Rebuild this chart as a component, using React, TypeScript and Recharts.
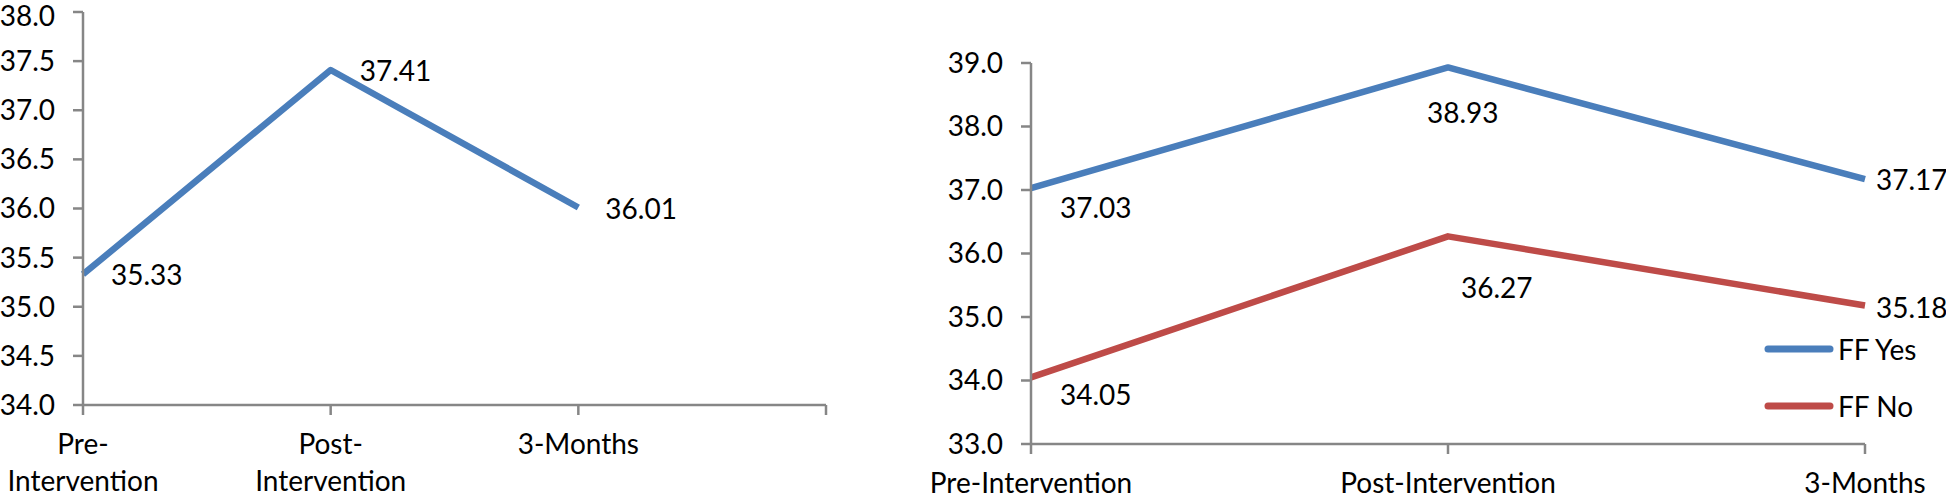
import { LabelList, Legend, Line, LineChart, XAxis, YAxis } from "recharts";

const categories = ["Pre-Intervention", "Post-Intervention", "3-Months"];
const overall = [35.33, 37.41, 36.01];
const ffYes = [37.03, 38.93, 37.17];
const ffNo = [34.05, 36.27, 35.18];
const seriesNames = ["FF Yes", "FF No"];
const leftTicks = [34, 34.5, 35, 35.5, 36, 36.5, 37, 37.5, 38];
const rightTicks = [33, 34, 35, 36, 37, 38, 39];

const FONT = "Lato, 'Open Sans', sans-serif";
const FS = 28;
const AXIS = "#868686";
const BLUE = "#4A7EBB";
const RED = "#BE4B48";

// Excel leaves one empty slot at the end of the left chart's category axis
const leftData = [...categories, ""].map((name, i) => ({ name, value: overall[i] ?? null }));
const rightData = categories.map((name, i) => ({ name, yes: ffYes[i], no: ffNo[i] }));

// label nudges from the data point (left edge / vertical centre of the text)
const leftNudge = [[28, 1], [29, 1], [27, 1]];
const yesNudge = [[29, 20], [-21, 45], [11, 1]];
const noNudge = [[29, 18], [13, 52], [11, 2]];

function PointLabel(props: any, nudge: number[][]) {
  const { x, y, value, index } = props;
  if (value == null || x == null) return null;
  const [dx, dy] = nudge[index] ?? [10, 0];
  return (
    <text x={x + dx} y={y + dy} dy="0.36em" fill="#000" fontSize={FS} fontFamily={FONT} textAnchor="start">
      {Number(value).toFixed(2)}
    </text>
  );
}

function CategoryTick({ x, y, payload, wrap }: any) {
  const label = String(payload?.value ?? "");
  if (!label) return null;
  const lines = wrap ? label.replace(/-(?=Intervention)/, "-\n").split("\n") : [label];
  return (
    <text x={x} y={y} fill="#000" fontSize={FS} fontFamily={FONT} textAnchor="middle">
      {lines.map((l, i) => (
        <tspan key={i} x={x} dy={i === 0 ? 37 : 37}>
          {l}
        </tspan>
      ))}
    </text>
  );
}

function LegendBox({ payload }: any) {
  const items = [...(payload ?? [])].sort(
    (a: any, b: any) => seriesNames.indexOf(a.value) - seriesNames.indexOf(b.value)
  );
  return (
    <div style={{ fontFamily: FONT, fontSize: FS, color: "#000" }}>
      {items.map((p: any) => (
        <div key={p.value} style={{ display: "flex", alignItems: "center", height: 57 }}>
          <svg width={70} height={10} style={{ marginRight: 4 }}>
            <line x1={4} y1={5} x2={66} y2={5} stroke={p.color} strokeWidth={7} strokeLinecap="round" />
          </svg>
          <span>{p.value}</span>
        </div>
      ))}
    </div>
  );
}

const axisStroke = { stroke: AXIS, strokeWidth: 2.5 };
const tickText = { fill: "#000", fontSize: FS, fontFamily: FONT };

export default function App() {
  return (
    <div style={{ position: "absolute", left: 0, top: 0, width: 1946, height: 495, background: "#fff", display: "flex" }}>
      <LineChart width={880} height={495} data={leftData} margin={{ top: 12, right: 54, bottom: 0, left: 0 }}>
        <XAxis
          dataKey="name"
          interval={0}
          height={90}
          tickSize={10}
          axisLine={axisStroke}
          tickLine={axisStroke}
          tick={<CategoryTick wrap />}
        />
        <YAxis
          type="number"
          width={83}
          domain={[34, 38]}
          ticks={leftTicks}
          tickFormatter={(v: number) => v.toFixed(1)}
          tickSize={10}
          tickMargin={18}
          axisLine={axisStroke}
          tickLine={axisStroke}
          tick={tickText}
        />
        <Line
          dataKey="value"
          stroke={BLUE}
          strokeWidth={6.5}
          strokeLinejoin="round"
          dot={false}
          activeDot={false}
          isAnimationActive={false}
        >
          <LabelList dataKey="value" content={(p: any) => PointLabel(p, leftNudge)} />
        </Line>
      </LineChart>

      <LineChart width={1066} height={495} data={rightData} margin={{ top: 63, right: 81, bottom: 0, left: 0 }}>
        <XAxis
          dataKey="name"
          interval={0}
          height={51}
          tickSize={10}
          axisLine={axisStroke}
          tickLine={axisStroke}
          tick={<CategoryTick />}
        />
        <YAxis
          type="number"
          width={151}
          domain={[33, 39]}
          ticks={rightTicks}
          tickFormatter={(v: number) => v.toFixed(1)}
          tickSize={10}
          tickMargin={18}
          axisLine={axisStroke}
          tickLine={axisStroke}
          tick={tickText}
        />
        <Line
          name={seriesNames[0]}
          dataKey="yes"
          stroke={BLUE}
          strokeWidth={6.5}
          strokeLinejoin="round"
          dot={false}
          activeDot={false}
          isAnimationActive={false}
        >
          <LabelList dataKey="yes" content={(p: any) => PointLabel(p, yesNudge)} />
        </Line>
        <Line
          name={seriesNames[1]}
          dataKey="no"
          stroke={RED}
          strokeWidth={6.5}
          strokeLinejoin="round"
          dot={false}
          activeDot={false}
          isAnimationActive={false}
        >
          <LabelList dataKey="no" content={(p: any) => PointLabel(p, noNudge)} />
        </Line>
        <Legend
          layout="vertical"
          align="center"
          verticalAlign="middle"
          content={<LegendBox />}
          wrapperStyle={{ left: 884, top: 320, width: 180 }}
        />
      </LineChart>
    </div>
  );
}
